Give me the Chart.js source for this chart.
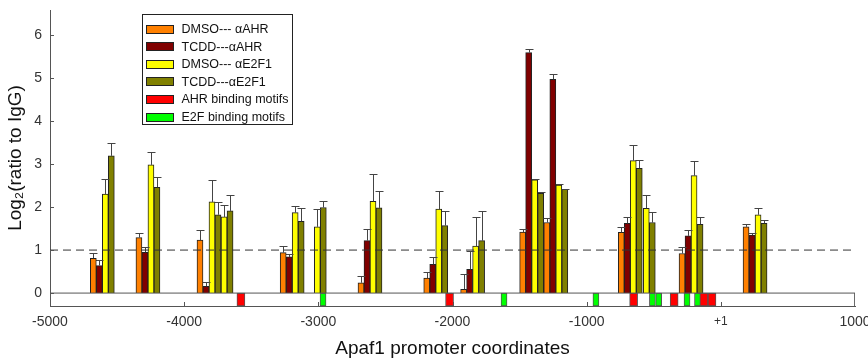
<!DOCTYPE html>
<html><head><meta charset="utf-8">
<script src="https://cdn.jsdelivr.net/npm/chart.js@4.4.0/dist/chart.umd.min.js"></script>
<style>html,body{margin:0;padding:0;background:#fff}#wrap{width:868px;height:360px}</style>
</head><body><div id="wrap"><canvas id="c" width="868" height="360"></canvas></div>
<script>
// ---- data ----
const groupPositions = [-4610,-4270,-3815,-3725,-3195,-3030,-2615,-2125,-1850,-1410,-1230,-675,-578,-222,255];
const dmsoAhr     = [0.81,1.29,1.23,null,0.94,null,0.24,0.35,0.09,1.42,1.64,1.41,null,0.92,1.54];
const dmsoAhrErr  = [0.13,0.10,0.24,null,0.15,null,0.16,0.15,0.35,0.08,0.11,0.13,null,0.14,0.06];
const tcddAhr     = [0.64,0.95,0.16,null,0.84,null,1.22,0.67,0.55,5.59,4.97,1.62,null,1.33,1.35];
const tcddAhrErr  = [0.13,0.11,0.10,null,0.07,null,0.28,0.17,0.43,0.08,0.12,0.15,null,0.14,0.04];
const dmsoE2f1    = [2.30,2.98,2.12,1.77,1.87,1.54,2.13,1.95,1.09,2.63,2.51,3.08,1.97,2.73,1.82];
const dmsoE2f1Err = [0.35,0.29,0.51,0.27,0.15,0.41,0.64,0.42,0.67,0.03,0.02,0.36,0.30,0.35,0.15];
const tcddE2f1    = [3.19,2.46,1.82,1.91,1.67,1.99,1.98,1.57,1.22,2.32,2.41,2.90,1.64,1.60,1.62];
const tcddE2f1Err = [0.31,0.23,0.30,0.37,0.30,0.14,0.40,0.33,0.69,0.02,0.02,0.19,0.25,0.17,0.09];
const ahrMotifs = [-3577,-2022,-650,-348,-126,-66];
const e2fMotifs = [-2965,-1616,-931,-510,-463,-252,-174];
const xTickValues = [-5000,-4000,-3000,-2000,-1000,0,1000];
const xTickLabels = ['-5000','-4000','-3000','-2000','-1000','+1','1000'];
const yTickValues = [0,1,2,3,4,5,6];
const thresholdLevel = 1;
const xMin = -5000, xMax = 1000, yMin = -0.3, yMax = 6.58;

const FONT = "'Liberation Sans', Arial, sans-serif";
const BAR_W = 6;

function barSeries(label, vals, errs, color, slot) {
  return {
    type: 'bar', label, err: errs, slot,
    data: groupPositions.map((x, i) => ({x, y: vals[i]})),
    backgroundColor: color, borderColor: '#222', borderWidth: 1,
    borderSkipped: 'start', barThickness: BAR_W, grouped: false, xAxisID: 'x', yAxisID: 'y'
  };
}
function motifSeries(label, xs, color, thick) {
  return {
    type: 'bar', label,
    data: xs.map(x => ({x, y: [yMin, 0]})),
    backgroundColor: color, borderColor: '#555', borderWidth: 1,
    borderSkipped: false, barThickness: thick, grouped: false, xAxisID: 'x', yAxisID: 'y'
  };
}

const datasets = [
  barSeries('DMSO--- \u03B1AHR', dmsoAhr, dmsoAhrErr, '#ff8000', -1.5),
  barSeries('TCDD---\u03B1AHR', tcddAhr, tcddAhrErr, '#800000', -0.5),
  barSeries('DMSO--- \u03B1E2F1', dmsoE2f1, dmsoE2f1Err, '#ffff00', 0.5),
  barSeries('TCDD---\u03B1E2F1', tcddE2f1, tcddE2f1Err, '#808000', 1.5),
  motifSeries('AHR binding motifs', ahrMotifs, '#ff0000', 8),
  motifSeries('E2F binding motifs', e2fMotifs, '#00ff00', 6),
  { type: 'line', label: 'threshold', legendHide: true, order: -1,
    data: [{x: xMin, y: thresholdLevel}, {x: xMax, y: thresholdLevel}],
    borderColor: '#333', borderWidth: 1, borderDash: [8, 5], pointRadius: 0, fill: false, xAxisID: 'x', yAxisID: 'y' },
  { type: 'line', label: 'strip', legendHide: true, order: -1,
    data: [{x: xMin, y: 0}, {x: xMax, y: 0}, {x: xMax, y: yMin}],
    borderColor: '#555', borderWidth: 1, pointRadius: 0, fill: false, xAxisID: 'x', yAxisID: 'y' }
];

// place the four series side by side inside each promoter group
const groupSlots = {
  id: 'groupSlots',
  afterDatasetsUpdate(chart) {
    chart.data.datasets.forEach((ds, i) => {
      if (ds.slot === undefined) return;
      chart.getDatasetMeta(i).data.forEach(el => { el.x += ds.slot * BAR_W; });
    });
  }
};

const errorBars = {
  id: 'errorBars',
  afterDatasetDraw(chart, args) {
    const ds = chart.data.datasets[args.index];
    if (!ds.err) return;
    const ys = chart.scales.y, ctx = chart.ctx;
    ctx.save();
    ctx.strokeStyle = '#444'; ctx.lineWidth = 1;
    args.meta.data.forEach((el, j) => {
      const v = ds.data[j].y, e = ds.err[j];
      if (v == null || e == null) return;
      const top = Math.round(ys.getPixelForValue(v + e)) + 0.5;
      const x = Math.round(el.x) + 0.5;
      ctx.beginPath();
      ctx.moveTo(x, el.y); ctx.lineTo(x, top);
      ctx.moveTo(x - 4, top); ctx.lineTo(x + 4, top);
      ctx.stroke();
    });
    ctx.restore();
  }
};

const innerTicks = {
  id: 'innerTicks',
  afterDraw(chart) {
    const ctx = chart.ctx, xs = chart.scales.x, ys = chart.scales.y, a = chart.chartArea;
    ctx.save();
    ctx.strokeStyle = '#555'; ctx.lineWidth = 1;
    ctx.beginPath();
    yTickValues.forEach(v => {
      const p = Math.round(ys.getPixelForValue(v)) + 0.5;
      ctx.moveTo(a.left, p); ctx.lineTo(a.left + 4, p);
    });
    xTickValues.slice(1, -1).forEach(v => {
      const p = Math.round(xs.getPixelForValue(v)) + 0.5;
      ctx.moveTo(p, a.bottom); ctx.lineTo(p, a.bottom - 4);
    });
    ctx.stroke();
    ctx.restore();
  }
};

const boxLegend = {
  id: 'boxLegend',
  afterDraw(chart) {
    const ctx = chart.ctx, a = chart.chartArea;
    const items = chart.data.datasets.filter(d => !d.legendHide);
    const left = a.left + 92.5, top = a.top + 4.5, w = 150, rowH = 17.6;
    const h = 110;
    ctx.save();
    ctx.fillStyle = '#fff';
    ctx.fillRect(left, top, w, h);
    ctx.strokeStyle = '#222'; ctx.lineWidth = 1;
    ctx.strokeRect(left, top, w, h);
    ctx.font = '12.5px ' + FONT;
    ctx.textBaseline = 'middle';
    ctx.textAlign = 'left';
    items.forEach((d, i) => {
      const cy = top + 14 + i * rowH;
      ctx.fillStyle = d.backgroundColor;
      ctx.fillRect(left + 4, Math.round(cy - 4) + 0.5, 27, 8);
      ctx.strokeStyle = '#222';
      ctx.strokeRect(left + 4, Math.round(cy - 4) + 0.5, 27, 8);
      ctx.fillStyle = '#111';
      ctx.fillText(d.label, left + 39, cy + 1);
    });
    ctx.restore();
  }
};

new Chart(document.getElementById('c'), {
  type: 'bar',
  data: {datasets},
  plugins: [groupSlots, errorBars, innerTicks, boxLegend],
  options: {
    responsive: false, animation: false, events: [],
    layout: {padding: {top: 10, right: 13, bottom: 0, left: 0}},
    plugins: {legend: {display: false}, tooltip: {enabled: false}},
    scales: {
      x: {
        type: 'linear', position: 'bottom', min: xMin, max: xMax, offset: false,
        grid: {display: false, drawTicks: false, offset: false},
        border: {display: true, color: '#555', width: 1},
        afterBuildTicks: s => { s.ticks = xTickValues.map(v => ({value: v})); },
        afterFit: s => { s.height = 54; s.paddingLeft = 0; s.paddingRight = 0; },
        ticks: {
          callback: v => xTickLabels[xTickValues.indexOf(v)],
          padding: 8, color: '#333', autoSkip: false, maxRotation: 0,
          font: c => ({family: FONT, size: (c.tick && c.tick.value === 0) ? 12 : 14})
        },
        title: {display: true, text: 'Apaf1 promoter coordinates', color: '#111',
          font: {family: FONT, size: 19}, padding: {top: 0, bottom: 0}}
      },
      y: {
        min: yMin, max: yMax,
        grid: {display: false, drawTicks: false},
        border: {display: true, color: '#555', width: 1},
        afterBuildTicks: s => { s.ticks = yTickValues.map(v => ({value: v})); },
        afterFit: s => { s.width = 50; s.paddingTop = 0; s.paddingBottom = 0; },
        ticks: {padding: 8, color: '#333', font: {family: FONT, size: 14}},
        title: {display: true, text: 'Log\u2082(ratio to IgG)', color: '#111',
          font: {family: FONT, size: 19}, padding: {top: 4, bottom: 0}}
      }
    }
  }
});
</script></body></html>
